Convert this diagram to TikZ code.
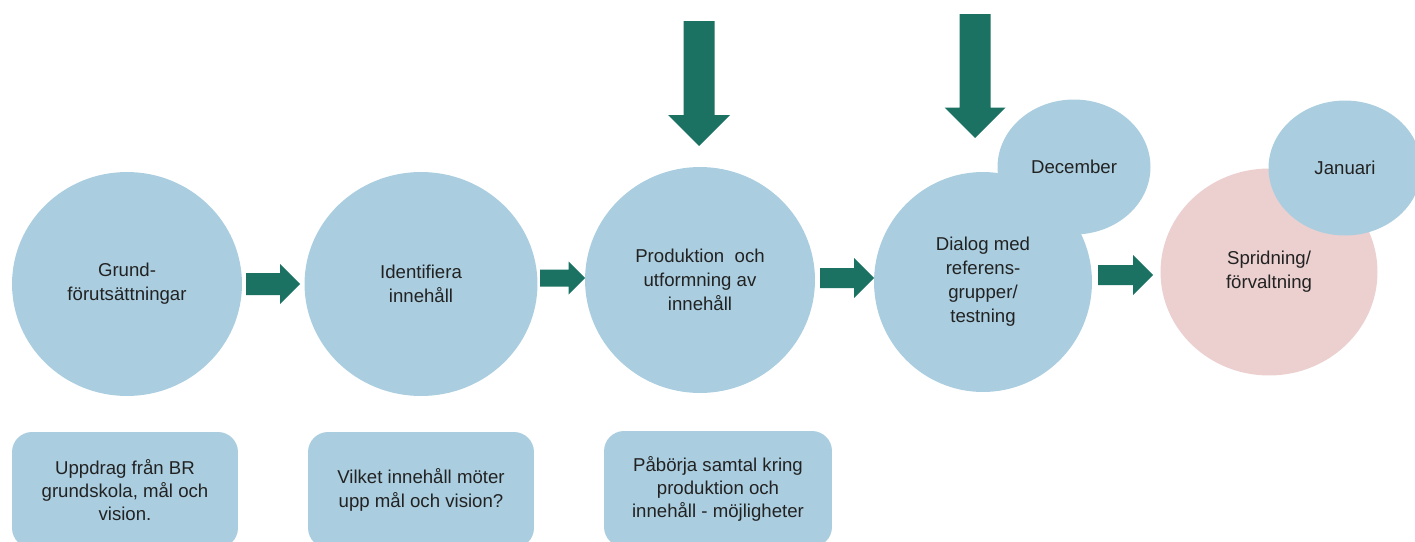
\documentclass[tikz,border=0pt]{standalone}
\usepackage{fontspec}
\setmainfont{Liberation Sans}
\usetikzlibrary{shapes.geometric}
\definecolor{phaseblue}{HTML}{AACEE0}
\definecolor{phasepink}{HTML}{ECD0D0}
\definecolor{arrowgreen}{HTML}{1B7263}
\definecolor{textgray}{HTML}{222222}
\tikzset{
	phase/.style={ellipse,fill=phaseblue,inner sep=0pt,minimum width=4.6cm,
		minimum height=4.48cm,align=center,text=textgray,
		font=\fontsize{10.6}{13.6}\selectfont},
	month/.style={phase,minimum width=3.06cm,minimum height=2.7cm},
	taskbox/.style={rectangle,rounded corners=0.4cm,fill=phaseblue,inner sep=0pt,
		minimum width=4.52cm,minimum height=2.32cm,align=center,text=textgray,
		font=\fontsize{10.6}{13.2}\selectfont},
	pics/blockarrow/.style n args={3}{code={
		\fill[arrowgreen] (0,-#2) -- (#1-#3,-#2) -- (#1-#3,-#3) -- (#1,0)
			-- (#1-#3,#3) -- (#1-#3,#2) -- (0,#2) -- cycle;
	}}
}
\begin{document}
\begin{tikzpicture}[x=0.02cm,y=-0.02cm]
				\useasboundingbox (0,0) rectangle (1415,541);
				% phases
				\node[phase] (grund) at (127,284) {Grund-\\förutsättningar};
				\node[phase,minimum width=4.66cm] (ident) at (421,284) {Identifiera\\innehåll};
				\node[phase,minimum height=4.52cm] (prod) at (700,280) {Produktion~ och\\utformning av\\innehåll};
				\node[phase,minimum width=4.36cm,minimum height=4.4cm] (dialog) at (983,282) {Dialog med\\referens-\\grupper/\\testning};
				\node[month] (dec) at (1074,167) {December};
				\node[phase,fill=phasepink,minimum width=4.34cm,minimum height=4.14cm] (sprid) at (1269,272) {Spridning/\\förvaltning};
				\node[month] (jan) at (1345,168) {Januari};
				% arrows between phases
				\pic at (246,284) {blockarrow={54}{11}{20}};
				\pic at (540,278) {blockarrow={45}{8.5}{16.5}};
				\pic at (820,278) {blockarrow={54}{10}{20}};
				\pic at (1098,275) {blockarrow={55}{10}{20}};
				% arrows from above
				\pic[rotate=-90] at (699,21) {blockarrow={125}{15.5}{31}};
				\pic[rotate=-90] at (975,14) {blockarrow={124}{15.5}{30.5}};
				% tasks
				\node[taskbox] (uppdrag) at (125,490) {Uppdrag från BR\\grundskola, mål och\\vision.};
				\node[taskbox] (vilket) at (421,490) {Vilket innehåll möter\\upp mål och vision?};
				\node[taskbox,minimum width=4.56cm] (paborja) at (718,489) {Påbörja samtal kring\\produktion och\\innehåll - möjligheter};
			\end{tikzpicture}
\end{document}
